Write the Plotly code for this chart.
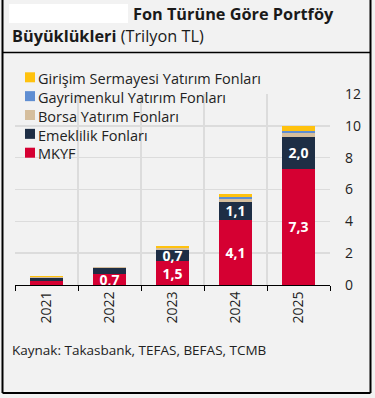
import plotly.graph_objects as go

years = ["2021", "2022", "2023", "2024", "2025"]
mkyf = [0.25, 0.7, 1.5, 4.1, 7.3]
emeklilik = [0.22, 0.35, 0.7, 1.1, 2.0]
borsa = [0.03, 0.05, 0.1, 0.2, 0.25]
gayrimenkul = [0.02, 0.03, 0.05, 0.1, 0.15]
girisim = [0.02, 0.02, 0.1, 0.2, 0.3]

mkyf_labels = ["", "0,7", "1,5", "4,1", "7,3"]
emek_labels = ["", "", "0,7", "1,1", "2,0"]

series_names = ["MKYF", "Emeklilik Fonları", "Borsa Yatırım Fonları",
                "Gayrimenkul Yatırım Fonları", "Girişim Sermayesi Yatırım Fonları"]
series_values = [mkyf, emeklilik, borsa, gayrimenkul, girisim]
series_text = [mkyf_labels, emek_labels, None, None, None]
colors = ["#D50032", "#1E2E45", "#D5BE9D", "#5F8ED2", "#FFC20E"]

W, H = 375, 398
L, R, T, B = 15, 45, 94, 113
PW, PH = W - L - R, H - T - B
FONT = "Open Sans"


def px(x):
    return (x - L) / PW


def py(y):
    return (H - B - y) / PH


fig = go.Figure()
for name, vals, txt, col in zip(series_names, series_values, series_text, colors):
    fig.add_trace(go.Bar(
        x=years, y=vals, name=name, marker=dict(color=col, line=dict(width=0)),
        text=txt, textposition="inside" if txt else "none",
        insidetextanchor="middle",
        textfont=dict(family=FONT, size=14, color="white", weight="bold"),
        showlegend=False, hoverinfo="skip",
    ))

shapes = []
annotations = []

# manual legend (top to bottom: reversed series order), one multi-line text block
LEG_SIZE = 14.5
LINE_H = LEG_SIZE * 1.3
leg_center = 115
leg_names = series_names[::-1]
leg_colors = colors[::-1]
n = len(leg_names)
for i, col in enumerate(leg_colors):
    cy = leg_center + (i - (n - 1) / 2) * LINE_H
    shapes.append(dict(type="rect", xref="paper", yref="paper",
                       x0=px(25), x1=px(35), y0=py(cy + 5), y1=py(cy - 5),
                       fillcolor=col, line=dict(width=0)))
annotations.append(dict(xref="paper", yref="paper", x=px(37), y=py(leg_center + 1),
                        xanchor="left", yanchor="middle", align="left", showarrow=False,
                        borderpad=0,
                        text="<br>".join(leg_names),
                        font=dict(family=FONT, size=LEG_SIZE, color="#222")))

# title
annotations.append(dict(xref="paper", yref="paper", x=px(131), y=py(14),
                        xanchor="left", yanchor="middle", showarrow=False,
                        text="<b>Fon Türüne Göre Portföy</b>",
                        font=dict(family=FONT, size=16.3, color="#1a1a1a")))
annotations.append(dict(xref="paper", yref="paper", x=px(10), y=py(36),
                        xanchor="left", yanchor="middle", showarrow=False,
                        text="<b>Büyüklükleri</b> (Trilyon TL)",
                        font=dict(family=FONT, size=16.3, color="#1a1a1a")))
# source
annotations.append(dict(xref="paper", yref="paper", x=px(10), y=py(350),
                        xanchor="left", yanchor="middle", showarrow=False,
                        text="Kaynak: Takasbank, TEFAS, BEFAS, TCMB",
                        font=dict(family=FONT, size=13.5, color="#222")))

# white box at top-left
shapes.append(dict(type="rect", xref="paper", yref="paper",
                   x0=px(9), x1=px(128), y0=py(23), y1=py(4),
                   fillcolor="white", line=dict(width=0), layer="above"))
# frame
for (x0, y0, x1, y1, w) in [(2.5, -2, 2.5, 393, 2), (370.5, -2, 370.5, 393, 2),
                             (2.5, 393, 370.5, 393, 2), (2.5, 52.5, 370.5, 52.5, 1.5)]:
    shapes.append(dict(type="line", xref="paper", yref="paper",
                       x0=px(x0), x1=px(x1), y0=py(y0), y1=py(y1),
                       line=dict(color="black", width=w)))

fig.update_layout(
    width=W, height=H, barmode="stack", bargap=0.49,
    margin=dict(l=L, r=R, t=T, b=B),
    paper_bgcolor="#F2F2F2", plot_bgcolor="#F2F2F2",
    font=dict(family=FONT, color="#222"),
    shapes=shapes, annotations=annotations,
    uniformtext=dict(minsize=14, mode="show"),
    hovermode=False,
    xaxis=dict(type="category", tickson="boundaries", ticks="outside", ticklen=5,
               tickcolor="black", showline=True, linecolor="black", linewidth=1,
               showgrid=True, gridcolor="#DCDCDC", gridwidth=1.5, tickangle=-90,
               tickfont=dict(family=FONT, size=14, color="#222")),
    yaxis=dict(side="right", range=[0, 12], dtick=2, showgrid=True,
               gridcolor="#DCDCDC", gridwidth=1.5, zeroline=False, ticks="",
               ticklabelstandoff=14,
               tickfont=dict(family=FONT, size=14, color="#222")),
)

fig.write_html("out.html", config={"displayModeBar": False, "staticPlot": True},
               post_script="document.body.style.margin='0';document.body.style.background='#F2F2F2';")
